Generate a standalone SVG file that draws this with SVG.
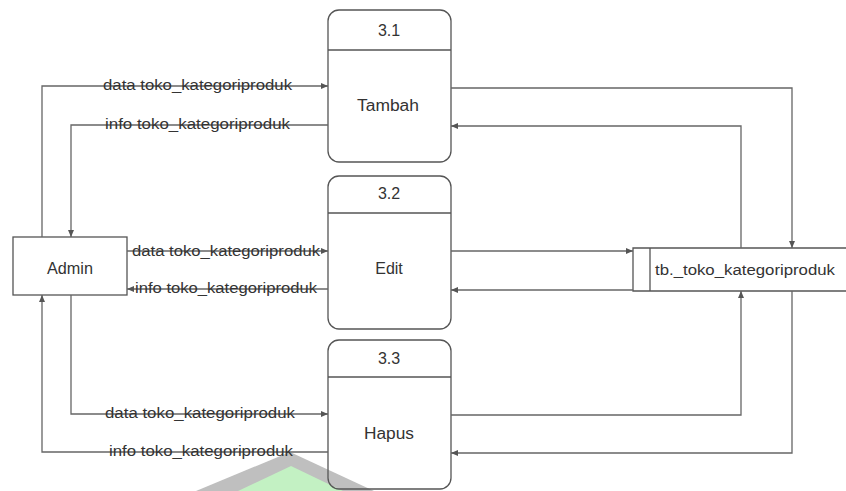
<svg xmlns="http://www.w3.org/2000/svg" width="846" height="491" viewBox="0 0 846 491">
  <style>
    .box { fill: none; stroke: #555; stroke-width: 1.3; }
    .flow { fill: none; stroke: #666; stroke-width: 1.3; marker-end: url(#arrow); }
    .lbl { font-family: "Liberation Sans", Arial, sans-serif; font-size: 14px; fill: #333; }
    .name { font-family: "Liberation Sans", Arial, sans-serif; font-size: 16px; fill: #333; text-anchor: middle; }
  </style>
  <defs>
    <marker id="arrow" markerUnits="userSpaceOnUse" markerWidth="8" markerHeight="8" refX="7" refY="3.5" orient="auto">
      <path d="M0,0.5 L7,3.5 L0,6.5 z" fill="#555"/>
    </marker>
  </defs>
  <rect width="846" height="491" fill="#fff"/>

  <!-- watermark emblem at the bottom edge -->
  <g id="emblem" opacity="0.85">
    <polygon points="196,491 290,452 374,491" fill="#b4b4b4"/>
    <polygon points="238,491 291,466 343,491" fill="#b9efb9"/>
  </g>

  <!-- external entity -->
  <g id="admin">
    <rect class="box" x="13" y="237" width="114" height="58"/>
    <text class="name" x="70" y="274" textLength="46" lengthAdjust="spacingAndGlyphs">Admin</text>
  </g>

  <!-- processes -->
  <g id="p31">
    <rect class="box" x="328" y="10" width="123" height="152" rx="11"/>
    <line class="box" x1="328" y1="50" x2="451" y2="50"/>
    <text class="name" x="389" y="36">3.1</text>
    <text class="name" x="388" y="111" textLength="62" lengthAdjust="spacingAndGlyphs">Tambah</text>
  </g>
  <g id="p32">
    <rect class="box" x="328" y="176" width="123" height="153" rx="11"/>
    <line class="box" x1="328" y1="213" x2="451" y2="213"/>
    <text class="name" x="389" y="199">3.2</text>
    <text class="name" x="389" y="274">Edit</text>
  </g>
  <g id="p33">
    <rect class="box" x="328" y="340" width="123" height="149" rx="11"/>
    <line class="box" x1="328" y1="377" x2="451" y2="377"/>
    <text class="name" x="389" y="364">3.3</text>
    <text class="name" x="389" y="439" textLength="50" lengthAdjust="spacingAndGlyphs">Hapus</text>
  </g>

  <!-- data store -->
  <g id="store">
    <path class="box" d="M846,248 H633 V291 H846 M650,248 V291"/>
    <text class="lbl" x="655" y="275" textLength="180" lengthAdjust="spacingAndGlyphs">tb._toko_kategoriproduk</text>
  </g>

  <!-- data flows -->
  <g id="flows">
    <path class="flow" d="M42,237 V86 H328"/>
    <path class="flow" d="M328,125 H71 V237"/>
    <path class="flow" d="M127,251 H328"/>
    <path class="flow" d="M328,289 H127"/>
    <path class="flow" d="M71,295 V414 H328"/>
    <path class="flow" d="M328,452 H42 V295"/>

    <path class="flow" d="M451,88 H792 V248"/>
    <path class="flow" d="M741,248 V126 H451"/>
    <path class="flow" d="M451,251 H633"/>
    <path class="flow" d="M633,290 H451"/>
    <path class="flow" d="M451,415 H741 V291"/>
    <path class="flow" d="M792,291 V453 H451"/>
  </g>

  <!-- flow labels -->
  <g id="labels">
    <text class="lbl" x="103" y="90" textLength="189" lengthAdjust="spacingAndGlyphs">data toko_kategoriproduk</text>
    <text class="lbl" x="105" y="129" textLength="185" lengthAdjust="spacingAndGlyphs">info toko_kategoriproduk</text>
    <text class="lbl" x="132" y="256" textLength="188" lengthAdjust="spacingAndGlyphs">data toko_kategoriproduk</text>
    <text class="lbl" x="135" y="293" textLength="182" lengthAdjust="spacingAndGlyphs">info toko_kategoriproduk</text>
    <text class="lbl" x="105" y="418" textLength="190" lengthAdjust="spacingAndGlyphs">data toko_kategoriproduk</text>
    <text class="lbl" x="109" y="456" textLength="184" lengthAdjust="spacingAndGlyphs">info toko_kategoriproduk</text>
  </g>
</svg>
